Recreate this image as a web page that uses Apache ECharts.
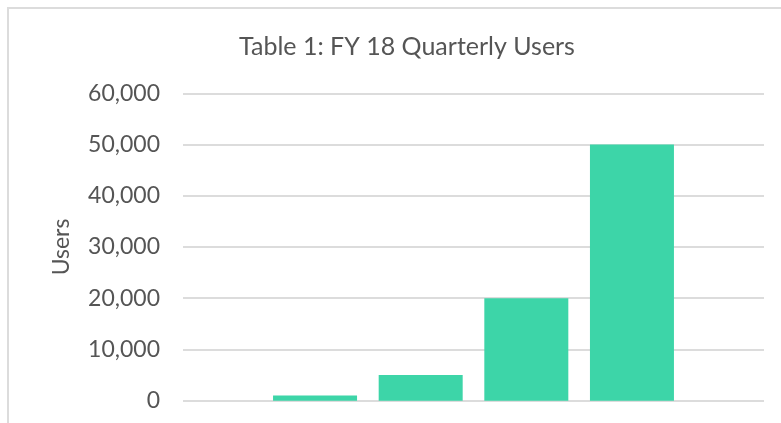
<!DOCTYPE html>
<html>
<head>
<meta charset="utf-8">
<script src="https://cdn.jsdelivr.net/npm/echarts@6/dist/echarts.min.js"></script>
<style>html,body{margin:0;padding:0;background:#fff;}#c{width:781px;height:423px;}</style>
</head>
<body>
<div id="c"></div>
<script>
const titleText = 'Table 1: FY 18 Quarterly Users';
const categories = ['Q1', 'Q2', 'Q3', 'Q4'];
const users = [1000, 5000, 20000, 50000];
const yTicks = [0, 10000, 20000, 30000, 40000, 50000, 60000];

const chart = echarts.init(document.getElementById('c'));
const FONT = 'Lato';
chart.setOption({
  animation: false,
  backgroundColor: '#ffffff',
  graphic: [{
    type: 'rect', silent: true, z: -1,
    shape: { x: 8, y: 8, width: 820, height: 500 },
    style: { fill: 'none', stroke: '#dcdcdc', lineWidth: 2 }
  }],
  title: {
    text: titleText,
    left: 402, top: 29, textAlign: 'center',
    textStyle: { fontFamily: FONT, fontSize: 25, fontWeight: 'normal', color: '#555555' }
  },
  grid: { left: 183, right: 17, top: 93.3, bottom: 22.3 },
  xAxis: {
    type: 'value', min: -1.25, max: 4.25, show: false
  },
  yAxis: {
    type: 'value',
    min: yTicks[0], max: yTicks[yTicks.length - 1], interval: 10000,
    name: 'Users', nameLocation: 'middle', nameGap: 110, nameRotate: 90,
    nameTextStyle: { fontFamily: FONT, fontSize: 23, color: '#555555' },
    axisLine: { show: false }, axisTick: { show: false },
    axisLabel: {
      margin: 23, fontFamily: FONT, fontSize: 23, color: '#555555',
      formatter: v => v.toLocaleString('en-US')
    },
    splitLine: { lineStyle: { color: '#dcdcdc', width: 2 } }
  },
  series: [{
    type: 'bar',
    name: 'Users',
    data: categories.map((c, i) => [i, users[i]]),
    barWidth: 84,
    itemStyle: { color: '#3dd5a8' }
  }]
});
</script>
</body>
</html>
